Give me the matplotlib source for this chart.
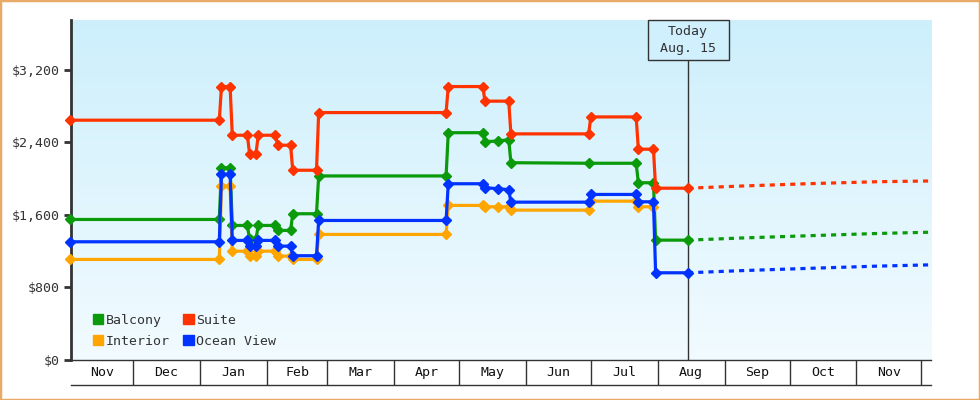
import numpy as np
import pandas as pd
import matplotlib
matplotlib.use("Agg")
import matplotlib.pyplot as plt
from matplotlib.patches import Patch, Rectangle
from matplotlib.colors import LinearSegmentedColormap

plt.rcParams['font.family'] = ['DejaVu Sans Mono']

# price history (step points)
suite_dates = ['2022-11-02', '2023-01-10', '2023-01-11', '2023-01-15', '2023-01-16', '2023-01-23',
               '2023-01-24', '2023-01-27', '2023-01-28', '2023-02-05', '2023-02-06', '2023-02-12',
               '2023-02-13', '2023-02-24', '2023-02-25', '2023-04-25', '2023-04-26', '2023-05-12',
               '2023-05-13', '2023-05-24', '2023-05-25', '2023-06-30', '2023-07-01', '2023-07-22',
               '2023-07-23', '2023-07-30', '2023-07-31', '2023-08-15']
suite_vals = [2645, 2645, 3016, 3016, 2479, 2479, 2276, 2276, 2479, 2479, 2369, 2369,
              2093, 2093, 2729, 2729, 3016, 3016, 2855, 2855, 2494, 2494, 2681, 2681,
              2325, 2325, 1895, 1895]

balcony_dates = ['2022-11-02', '2023-01-10', '2023-01-11', '2023-01-15', '2023-01-16', '2023-01-23',
                 '2023-01-24', '2023-01-27', '2023-01-28', '2023-02-05', '2023-02-06', '2023-02-12',
                 '2023-02-13', '2023-02-24', '2023-02-25', '2023-04-25', '2023-04-26', '2023-05-12',
                 '2023-05-13', '2023-05-19', '2023-05-24', '2023-05-25', '2023-06-30', '2023-07-22',
                 '2023-07-23', '2023-07-30', '2023-07-31', '2023-08-15']
balcony_vals = [1550, 1550, 2121, 2121, 1484, 1484, 1330, 1330, 1484, 1484, 1429, 1429,
                1613, 1613, 2030, 2030, 2507, 2507, 2408, 2415, 2430, 2176, 2170, 2170,
                1955, 1955, 1322, 1322]

ocean_dates = ['2022-11-02', '2023-01-10', '2023-01-11', '2023-01-15', '2023-01-16', '2023-01-23',
               '2023-01-24', '2023-01-27', '2023-01-28', '2023-02-05', '2023-02-06', '2023-02-12',
               '2023-02-13', '2023-02-24', '2023-02-25', '2023-04-25', '2023-04-26', '2023-05-12',
               '2023-05-13', '2023-05-19', '2023-05-24', '2023-05-25', '2023-06-30', '2023-07-01',
               '2023-07-22', '2023-07-23', '2023-07-30', '2023-07-31', '2023-08-15']
ocean_vals = [1304, 1304, 2047, 2047, 1319, 1319, 1256, 1256, 1319, 1319, 1256, 1256,
              1150, 1150, 1539, 1539, 1944, 1944, 1900, 1890, 1878, 1741, 1741, 1826,
              1826, 1745, 1745, 962, 962]

interior_dates = ['2022-11-02', '2023-01-10', '2023-01-11', '2023-01-15', '2023-01-16', '2023-01-23',
                  '2023-01-24', '2023-01-27', '2023-01-28', '2023-02-05', '2023-02-06', '2023-02-12',
                  '2023-02-13', '2023-02-24', '2023-02-25', '2023-04-25', '2023-04-26', '2023-05-12',
                  '2023-05-13', '2023-05-19', '2023-05-24', '2023-05-25', '2023-06-30', '2023-07-01',
                  '2023-07-22', '2023-07-23', '2023-07-30']
interior_vals = [1109, 1109, 1918, 1918, 1200, 1200, 1146, 1146, 1200, 1200, 1146, 1146,
                 1109, 1109, 1385, 1385, 1705, 1705, 1690, 1690, 1690, 1653, 1653, 1752,
                 1752, 1690, 1690]

# forecast after today
fc_dates = ['2023-08-15', '2023-09-08', '2023-10-09', '2023-11-10', '2023-12-06']
suite_fc = [1895, 1918, 1944, 1966, 1975]
balcony_fc = [1322, 1345, 1370, 1395, 1410]
ocean_fc = [962, 985, 1010, 1035, 1050]

today = '2023-08-15'
today_label = 'Today\nAug. 15'
yticks = [0, 800, 1600, 2400, 3200]
month_starts = pd.date_range('2022-12-01', '2023-12-01', freq='MS')
xmin, xmax = pd.Timestamp('2022-11-02 08:00'), pd.Timestamp('2023-12-05 12:00')

c_green, c_red, c_orange, c_blue = '#0a9a0a', '#ff3300', '#ffa500', '#0033ff'
ink = '#333333'

fig = plt.figure(figsize=(9.8, 4), dpi=100)
ax = fig.add_axes([71/980, 40/400, 860/980, 340/400])

# gradient background
grad = np.linspace(0, 1, 256).reshape(-1, 1)
cmap = LinearSegmentedColormap.from_list('bg', ['#cdeffc', '#f2fbff'])
ax.imshow(grad, cmap=cmap, aspect='auto', extent=[0, 1, 0, 1], transform=ax.transAxes, zorder=0)

series = [
    (balcony_dates, balcony_vals, c_green),
    (interior_dates, interior_vals, c_orange),
    (ocean_dates, ocean_vals, c_blue),
    (suite_dates, suite_vals, c_red),
]
for d, v, c in series:
    ax.plot(pd.to_datetime(d), v, color=c, lw=2.3, marker='D', ms=5.5, clip_on=False, zorder=3)

fd = pd.to_datetime(fc_dates)
for v, c in [(suite_fc, c_red), (balcony_fc, c_green), (ocean_fc, c_blue)]:
    ax.plot(fd, v, color=c, lw=2.3, ls=(0, (1.6, 1.6)), zorder=3)

ax.set_xlim(xmin, xmax)
ax.set_ylim(0, 3750)

# today marker with its label box
t = pd.Timestamp(today)
tx = (t - xmin) / (xmax - xmin)
box_w, box_h = 81/860, 40/340
ax.plot([tx, tx], [0, 1 - box_h], color=ink, lw=1, transform=ax.transAxes, zorder=2)
ax.add_patch(Rectangle((tx - box_w/2, 1 - box_h), box_w, box_h, transform=ax.transAxes,
                       fc='#cff0fc', ec=ink, lw=1, zorder=4, clip_on=False))
ax.text(tx, 1 - box_h/2, today_label, transform=ax.transAxes, ha='center', va='center',
        fontsize=9.5, color=ink, linespacing=1.45, zorder=5)

ax.set_yticks(yticks)
ax.set_yticklabels(['${:,}'.format(y) for y in yticks])
ax.tick_params(axis='y', length=5, width=2, color=ink, labelcolor=ink, labelsize=9.5, pad=3)
ax.tick_params(axis='x', bottom=False, labelbottom=False)
for s in ['top', 'right']:
    ax.spines[s].set_visible(False)
ax.spines['left'].set_linewidth(2)
ax.spines['left'].set_color(ink)
ax.spines['bottom'].set_linewidth(1)
ax.spines['bottom'].set_color(ink)

handles = [Patch(color=c_green, label='Balcony'), Patch(color=c_orange, label='Interior'),
           Patch(color=c_red, label='Suite'), Patch(color=c_blue, label='Ocean View')]
leg = ax.legend(handles=handles, ncol=2, loc='lower left', bbox_to_anchor=(0.019, 0.02),
                frameon=False, fontsize=9.5, handlelength=0.8, handleheight=0.8,
                handletextpad=0.2, columnspacing=1.0, labelspacing=0.62, borderaxespad=0)
for txt in leg.get_texts():
    txt.set_color(ink)

# month band under the plot
band = fig.add_axes([71/980, 15/400, 860/980, 25/400], sharex=ax)
band.set_facecolor('none')
band.set_ylim(0, 1)
for s in ['left', 'right', 'top']:
    band.spines[s].set_visible(False)
band.spines['bottom'].set_color(ink)
band.spines['bottom'].set_linewidth(1)
band.set_yticks([])
band.tick_params(axis='x', bottom=False, labelbottom=False)
edges = [xmin] + list(month_starts) + [xmax]
for m in month_starts:
    band.plot([m, m], [0, 1], color=ink, lw=1)
for a, b in zip(edges[:-1], edges[1:]):
    if (b - a).days < 20:
        continue
    band.text(a + (b - a) / 2, 0.5, a.strftime('%b'),
              ha='center', va='center', fontsize=9.5, color='#111111')
band.set_xlim(xmin, xmax)

fig.patches.append(Rectangle((0, 0), 1, 1, transform=fig.transFigure, fill=False,
                             ec='#e8aa66', lw=2.5))

fig.savefig('out.png', dpi=100)
